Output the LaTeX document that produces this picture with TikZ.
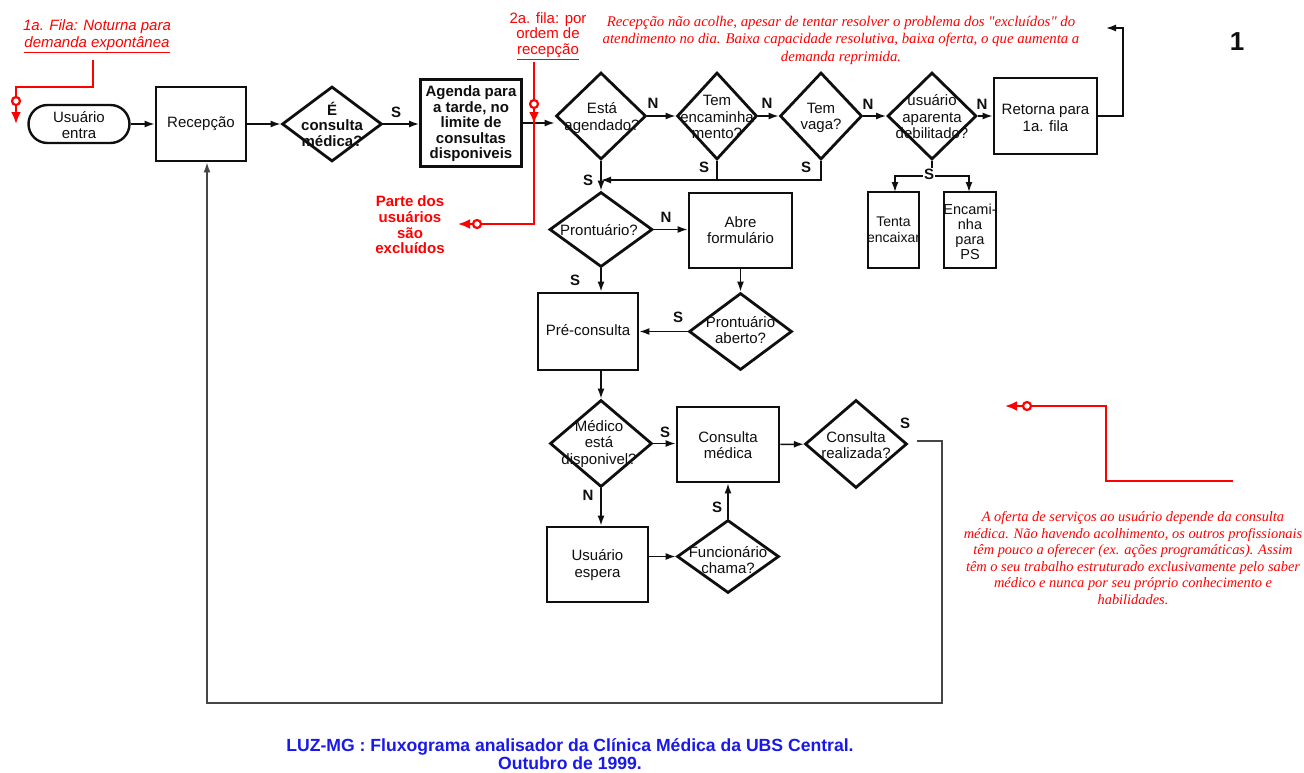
\documentclass[tikz,border=0pt]{standalone}
\usepackage{fontspec}
\setmainfont{Liberation Sans}
\newfontfamily\notefont{Liberation Serif}
\usetikzlibrary{shapes.geometric,arrows.meta}

\definecolor{ink}{RGB}{15,15,15}
\definecolor{loopgray}{RGB}{70,70,70}
\definecolor{redink}{RGB}{255,0,0}
\definecolor{titleblue}{RGB}{25,25,235}

\tikzset{
  x=1pt, y=-1pt,
  box/.style={draw=ink, line width=2.8pt, rectangle, inner sep=0pt},
  dia/.style={draw=ink, line width=2.8pt, diamond, inner sep=0pt},
  term/.style={draw=ink, line width=2.4pt, rectangle, rounded corners=19pt, inner sep=0pt},
  txt/.style={align=center, inner sep=0pt, text=ink, font=\fontsize{15}{16.5}\selectfont},
  btxt/.style={align=center, inner sep=0pt, text=ink, font=\fontsize{15}{15.5}\selectfont\bfseries},
  yn/.style={inner sep=0pt, text=ink, font=\fontsize{15}{15}\selectfont\bfseries},
  tip/.style={-{Latex[length=10pt,width=7pt]}},
  flow/.style={draw=ink, line width=1.5pt, tip},
  link/.style={draw=ink, line width=1.5pt},
  loopline/.style={draw=loopgray, line width=1.5pt},
  redline/.style={draw=redink, line width=2.8pt},
  redtip/.style={draw=redink, line width=2.8pt, -{Latex[length=12pt,width=10pt]}},
  redring/.style={draw=redink, line width=2.2pt, fill=white, circle, inner sep=0pt, minimum size=8pt},
  redsans/.style={align=center, inner sep=0pt, text=redink, font=\fontsize{15}{16.5}\selectfont},
  redbold/.style={align=center, inner sep=0pt, text=redink, font=\fontsize{15}{15.7}\selectfont\bfseries},
  rednote/.style={align=center, inner sep=0pt, text=redink, font=\notefont\itshape\fontsize{14.8}{17.5}\selectfont},
}

\begin{document}
\begin{tikzpicture}
\useasboundingbox (0,0) rectangle (1304,772);
\clip (0,0) rectangle (1304,772);
\fill[white] (0,0) rectangle (1304,772);

% ---------- entry row ----------
\node[term, minimum width=101, minimum height=38] (user) at (79,124) {};
\node[txt] (userT) at (79,125) {Usuário\\entra};
\node[box, minimum width=90, minimum height=74] (rec) at (201,124) {};
\node[txt] (recT) at (201,124) {Recepção};
\node[dia, minimum width=100, minimum height=75] (ecm) at (332,124) {};
\node[btxt] (ecmT) at (332,124) {É\\consulta\\médica?};
\node[box, minimum width=101, minimum height=87] (agenda) at (471,123) {};
\node[btxt] (agendaT) at (471,124) {Agenda para\\a tarde, no\\limite de\\consultas\\disponiveis};

\node[dia, minimum width=90, minimum height=87] (esta) at (601,116) {};
\node[txt] (estaT) at (602,118) {Está\\agendado?};
\node[dia, minimum width=80, minimum height=87] (tem) at (717,116) {};
\node[txt] (temT) at (717,117) {Tem\\encaminha\\mento?};
\node[dia, minimum width=82, minimum height=87] (vaga) at (821,116) {};
\node[txt] (vagaT) at (821,118) {Tem\\vaga?};
\node[dia, minimum width=89, minimum height=87] (deb) at (932,116) {};
\node[txt] (debT) at (932,117) {usuário\\aparenta\\debilitado?};
\node[box, minimum width=103, minimum height=76] (ret) at (1045.5,116) {};
\node[txt] (retT) at (1045.5,118) {Retorna para\\1a. fila};

\node[box, minimum width=51, minimum height=76] (tenta) at (893.5,230) {};
\node[txt, font=\fontsize{14}{16}\selectfont] (tentaT) at (893.5,230) {Tenta\\encaixar};
\node[box, minimum width=52, minimum height=76] (encam) at (970,230) {};
\node[txt, font=\fontsize{14.5}{15}\selectfont] (encamT) at (970,232) {Encami-\\nha\\para\\PS};

% ---------- record check ----------
\node[dia, minimum width=103, minimum height=75] (pront) at (601,229.5) {};
\node[txt] (prontT) at (599,230) {Prontuário?};
\node[box, minimum width=103, minimum height=75] (abre) at (740.5,230.5) {};
\node[txt] (abreT) at (740.5,230) {Abre\\formulário};
\node[dia, minimum width=103, minimum height=77] (pa) at (740.5,331.5) {};
\node[txt] (paT) at (740.5,330) {Prontuário\\aberto?};
\node[box, minimum width=100, minimum height=77] (pre) at (588,331.5) {};
\node[txt] (preT) at (588,330) {Pré-consulta};

% ---------- consultation ----------
\node[dia, minimum width=102, minimum height=87] (med) at (601,443.5) {};
\node[txt] (medT) at (599,444) {Médico\\está\\disponivel?};
\node[box, minimum width=102, minimum height=75] (cons) at (728,444.5) {};
\node[txt] (consT) at (728,445) {Consulta\\médica};
\node[dia, minimum width=102, minimum height=88] (real) at (856,444) {};
\node[txt] (realT) at (856,445) {Consulta\\realizada?};
\node[box, minimum width=101, minimum height=75] (esp) at (597.5,564.5) {};
\node[txt] (espT) at (597.5,565) {Usuário\\espera};
\node[dia, minimum width=102, minimum height=73] (func) at (728,556.5) {};
\node[txt] (funcT) at (728,560) {Funcionário\\chama?};

% ---------- connectors ----------
\draw[flow] (user) -- (rec);
\draw[flow] (rec) -- (ecm);
\draw[flow] (ecm.east) -- (ecm.east -| agenda.west);
\draw[flow] (agenda.east) -- (agenda.east -| esta.west);
\draw[flow] (esta) -- (tem);
\draw[flow] (tem) -- (vaga);
\draw[flow] (vaga) -- (deb);
\draw[flow] (deb) -- (ret);
\coordinate (backUp) at (1123,28);
\coordinate (backEnd) at (1106,28);
\draw[flow] (ret.east) -| (backUp) -- (backEnd);

\coordinate (join) at (601,180);
\draw[flow] (esta) -- (pront);
\draw[link] (tem.south) -- (tem.south |- join);
\draw[flow] (vaga.south) |- (join);

\coordinate (split) at (932,176);
\draw[link] (deb.south) -- (split);
\draw[flow] (split) -| (895,192);
\draw[flow] (split) -| (969,192);

\draw[flow] (pront.east) -- (pront.east -| abre.west);
\draw[flow] (abre) -- (pa);
\draw[flow] (pa.west) -- (pa.west -| pre.east);
\draw[flow] (pront.south) -- (pront.south |- pre.north);
\draw[flow] (pre.south -| med.north) -- (med.north);
\draw[flow] (med.east) -- (med.east -| cons.west);
\draw[flow] (cons) -- (real);
\draw[flow] (med.south) -- (med.south |- esp.north);
\draw[flow] (esp.east |- func.west) -- (func.west);
\draw[flow] (func.north) -- (func.north |- cons.south);

% return to reception
\coordinate (loopA) at (942,441);
\coordinate (loopB) at (942,703);
\coordinate (loopC) at (207,703);
\draw[loopline, tip] ([xshift=9pt]real.east |- loopA) -- (loopA) -- (loopB) -- (loopC) -- (loopC |- rec.south);

% ---------- branch labels ----------
\node[yn] (l1) at (396,112) {S};
\node[yn] (l2) at (653,103) {N};
\node[yn] (l3) at (767,103) {N};
\node[yn] (l4) at (868,104) {N};
\node[yn] (l5) at (982,104) {N};
\node[yn] (l6) at (704,167) {S};
\node[yn] (l7) at (806,167) {S};
\node[yn] (l8) at (588,180) {S};
\node[yn, fill=white, inner sep=1pt] (l9) at (929,174) {S};
\node[yn] (l10) at (666,217) {N};
\node[yn] (l11) at (575,280) {S};
\node[yn] (l12) at (678,317) {S};
\node[yn] (l13) at (665,432) {S};
\node[yn] (l14) at (588,495) {N};
\node[yn] (l15) at (717,507) {S};
\node[yn] (l16) at (905,423) {S};

% ---------- page number ----------
\node[inner sep=0pt, text=ink, font=\fontsize{26}{26}\selectfont\bfseries] (pageno) at (1237,42) {1};

% ---------- red annotations ----------
\node[redsans, font=\fontsize{15}{17}\selectfont\itshape] (fila1) at (97,36) {1a. Fila: Noturna para\\\underline{demanda expontânea}};
\node[redring] (ring1) at (16,101) {};
\coordinate (f1top) at (93,60);
\draw[redline] (f1top) -- (93,87) -| (ring1.north);
\coordinate (f1tip) at (16,124);
\draw[redtip] (ring1.south) -- (f1tip);

\node[redsans, font=\fontsize{15}{15.5}\selectfont] (fila2) at (548,36) {2a. fila: por\\ordem de\\\underline{recepção}};
\node[redring] (ring2) at (534,104) {};
\node[redring] (ring3) at (477,224) {};
\coordinate (f2top) at (534,62);
\coordinate (f2corner) at (534,224);
\coordinate (f2tip) at (458,224);
\draw[redline] (f2top) -- (ring2.north);
\draw[redline] (ring2.south) -- (f2corner) -- (ring3.east);
\draw[redtip] (534,109) -- (534,124);
\draw[redtip] (ring3.west) -- (f2tip);

\node[redbold] (excl) at (410,225) {Parte dos\\usuários\\são\\excluídos};

\node[rednote] (noteTop) at (841,40) {Recepção não acolhe, apesar de tentar resolver o problema dos "excluídos" do\\atendimento no dia. Baixa capacidade resolutiva, baixa oferta, o que aumenta a\\demanda reprimida.};

\node[redring] (ring4) at (1027,406) {};
\coordinate (f4tip) at (1005,406);
\coordinate (f4end) at (1233,481);
\draw[redtip] (ring4.west) -- (f4tip);
\draw[redline] (ring4.east) -- (1106,406) |- (f4end);

\node[rednote, font=\notefont\itshape\fontsize{14.4}{16.5}\selectfont] (noteLow) at (1133,558) {A oferta de serviços ao usuário depende da consulta\\médica. Não havendo acolhimento, os outros profissionais\\têm pouco a oferecer (ex. ações programáticas). Assim\\têm o seu trabalho estruturado exclusivamente pelo saber\\médico e nunca por seu próprio conhecimento e\\habilidades.};

% ---------- title ----------
\node[align=center, inner sep=0pt, text=titleblue, font=\fontsize{17.6}{18.5}\selectfont\bfseries] (title) at (570,754) {LUZ-MG : Fluxograma analisador da Clínica Médica da UBS Central.\\Outubro de 1999.};
\end{tikzpicture}
\end{document}
